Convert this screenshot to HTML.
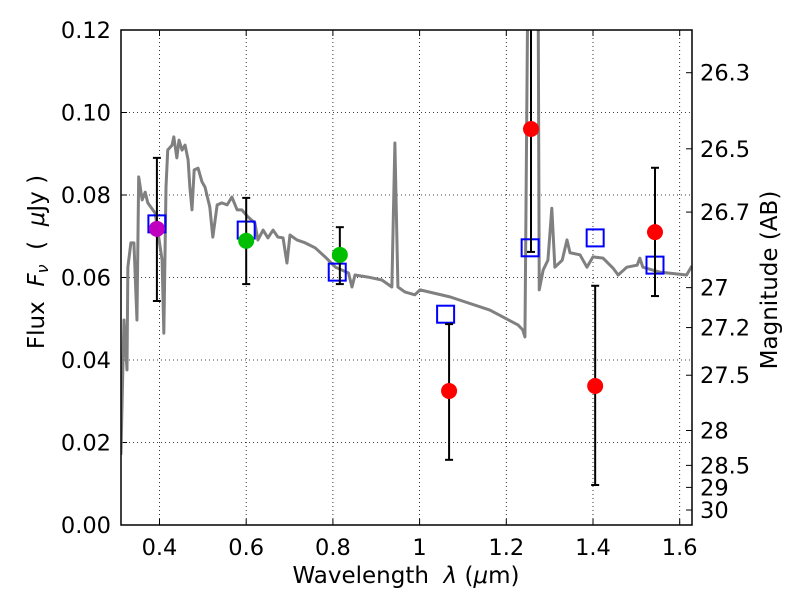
<!DOCTYPE html>
<html><head><meta charset="utf-8"><style>
body{margin:0;background:#fff}
svg text{font-family:"DejaVu Sans","Liberation Sans",sans-serif;fill:#000}
</style></head><body>
<svg id="c" width="800" height="600" xmlns="http://www.w3.org/2000/svg"></svg>
<script>
const specW=[0.311,0.318,0.325,0.327,0.334,0.341,0.348,0.352,0.360,0.367,0.373,0.390,0.406,0.410,0.415,0.419,0.429,0.433,0.440,0.445,0.452,0.459,0.466,0.470,0.475,0.480,0.489,0.498,0.505,0.516,0.523,0.533,0.544,0.556,0.567,0.579,0.590,0.604,0.620,0.627,0.639,0.650,0.662,0.673,0.685,0.694,0.701,0.717,0.736,0.759,0.782,0.806,0.836,0.844,0.851,0.881,0.913,0.936,0.943,0.950,0.966,0.989,1.001,1.070,1.162,1.227,1.238,1.243,1.255,1.271,1.276,1.285,1.296,1.305,1.312,1.329,1.340,1.347,1.370,1.386,1.400,1.423,1.446,1.458,1.478,1.502,1.508,1.515,1.554,1.616,1.628];
const specF=[0.017,0.0497,0.0376,0.0625,0.0684,0.0684,0.0497,0.0844,0.0788,0.0807,0.0781,0.0756,0.0642,0.0465,0.0819,0.0909,0.0921,0.0941,0.089,0.0933,0.0909,0.0921,0.0885,0.0819,0.0764,0.0861,0.0865,0.0832,0.0819,0.0771,0.0698,0.0776,0.0781,0.0776,0.0795,0.0764,0.0764,0.0747,0.0732,0.0691,0.0715,0.0696,0.0715,0.0698,0.0696,0.0635,0.0703,0.0691,0.0684,0.0672,0.065,0.0625,0.0611,0.0577,0.0606,0.0601,0.0594,0.0577,0.0926,0.0577,0.0565,0.0558,0.057,0.0553,0.0521,0.0485,0.0473,0.0456,0.2,0.2,0.057,0.0618,0.0642,0.0768,0.0625,0.0642,0.0691,0.066,0.0655,0.0625,0.065,0.0647,0.0623,0.0606,0.0625,0.063,0.0647,0.0625,0.0613,0.0606,0.0628];
const sqW=[0.394,0.6,0.81,1.06,1.255,1.405,1.543];
const sqF=[0.0730,0.0715,0.0613,0.0511,0.0672,0.0696,0.0630];
const ptW=[0.394,0.6,0.816,1.068,1.257,1.405,1.543];
const ptF=[0.0718,0.0689,0.0655,0.0325,0.096,0.0337,0.071];
const ptLo=[0.0543,0.0584,0.0584,0.0158,0.0662,0.0097,0.0555];
const ptHi=[0.089,0.0793,0.0722,0.0487,0.2,0.058,0.0866];
const ptC=["#bf00bf","#00bf00","#00bf00","#ff0000","#ff0000","#ff0000","#ff0000"];
const xTicks=[0.4,0.6,0.8,1.0,1.2,1.4,1.6];
const xLabels=["0.4","0.6","0.8","1","1.2","1.4","1.6"];
const yTicks=[0,0.02,0.04,0.06,0.08,0.10,0.12];
const yLabels=["0.00","0.02","0.04","0.06","0.08","0.10","0.12"];
const magTicks=[26.3,26.5,26.7,27,27.2,27.5,28,28.5,29,30];
const magLabels=["26.3","26.5","26.7","27","27.2","27.5","28","28.5","29","30"];

const L=121,R=692,T=30,B=525;
const X=w=>159.5+(w-0.4)*433.5;
const Y=f=>B-f*4125;
const NS="http://www.w3.org/2000/svg";
const svg=document.getElementById('c');
function mk(t,a,p){const e=document.createElementNS(NS,t);for(const k in a)e.setAttribute(k,a[k]);(p||svg).appendChild(e);return e;}
const defs=mk('defs',{});const cp=mk('clipPath',{id:'cp'},defs);mk('rect',{x:L,y:T,width:R-L,height:B-T},cp);

xTicks.forEach((t,i)=>{
 const g=mk('line',{x1:X(t),x2:X(t),y1:T,y2:B,stroke:'#000','stroke-dasharray':'1,3','stroke-width':0.8});
 
 
 mk('line',{x1:X(t),x2:X(t),y1:B,y2:B-6,stroke:'#000'});
 mk('line',{x1:X(t),x2:X(t),y1:T,y2:T+6,stroke:'#000'});
 const tx=mk('text',{x:X(t),y:555,'font-size':22.5,'text-anchor':'middle'});tx.textContent=xLabels[i];
 
 
});
yTicks.forEach((t,i)=>{
 const g=mk('line',{x1:L,x2:R,y1:Y(t),y2:Y(t),stroke:'#000','stroke-dasharray':'1,3','stroke-width':0.8});
 
 
 mk('line',{x1:L,x2:L+6,y1:Y(t),y2:Y(t),stroke:'#000'});
 const tx=mk('text',{x:111,y:Y(t)+8,'font-size':22.5,'text-anchor':'end'});tx.textContent=yLabels[i];
 
 
});
magTicks.forEach((m,i)=>{
 const y=Y(Math.pow(10,(23.9-m)/2.5));
 mk('line',{x1:R-6,x2:R,y1:y,y2:y,stroke:'#000'});
 const tx=mk('text',{x:700,y:y+8,'font-size':22.5});tx.textContent=magLabels[i];
 
 
});
const g=mk('g',{'clip-path':'url(#cp)'});
const sp=mk('polyline',{points:specW.map((w,i)=>X(w)+','+Y(specF[i])).join(' '),fill:'none',stroke:'#808080','stroke-width':3,'stroke-linejoin':'round'},g);


sqW.forEach((w,i)=>{
 const r=mk('rect',{x:X(w)-8.5,y:Y(sqF[i])-8.5,width:17,height:17,fill:'none',stroke:'#0000ff','stroke-width':2},g);
 
 
});
ptW.forEach((w,i)=>{
 const x=X(w);
 const e=mk('line',{x1:x,x2:x,y1:Y(ptHi[i]),y2:Y(ptLo[i]),stroke:'#000','stroke-width':2},g);
 
 
 mk('line',{x1:x-4,x2:x+4,y1:Y(ptHi[i]),y2:Y(ptHi[i]),stroke:'#000','stroke-width':2},g);
 mk('line',{x1:x-4,x2:x+4,y1:Y(ptLo[i]),y2:Y(ptLo[i]),stroke:'#000','stroke-width':2},g);
 const c=mk('circle',{cx:x,cy:Y(ptF[i]),r:8,fill:ptC[i]},g);
 
 
});
const fr=mk('rect',{x:L,y:T,width:R-L,height:B-T,fill:'none',stroke:'#000','stroke-width':1.5});


</script>
<svg style="position:absolute;left:0;top:0" width="800" height="600">
<text x="406" y="583" font-size="23" text-anchor="middle" style="font-family:'DejaVu Sans',sans-serif" xml:space="preserve">Wavelength  <tspan font-style="italic">λ</tspan> (<tspan font-style="italic">μ</tspan>m)</text>
<text transform="translate(44,262) rotate(-90)" font-size="23" text-anchor="middle" style="font-family:'DejaVu Sans',sans-serif" xml:space="preserve">Flux  <tspan font-style="italic">F</tspan><tspan font-style="italic" font-size="16" dy="4">ν</tspan><tspan dy="-4">  (  </tspan><tspan font-style="italic">μ</tspan>Jy )</text>
<text transform="translate(777,280) rotate(-90)" font-size="23" text-anchor="middle" style="font-family:'DejaVu Sans',sans-serif">Magnitude (AB)</text>
</svg>
</body></html>
